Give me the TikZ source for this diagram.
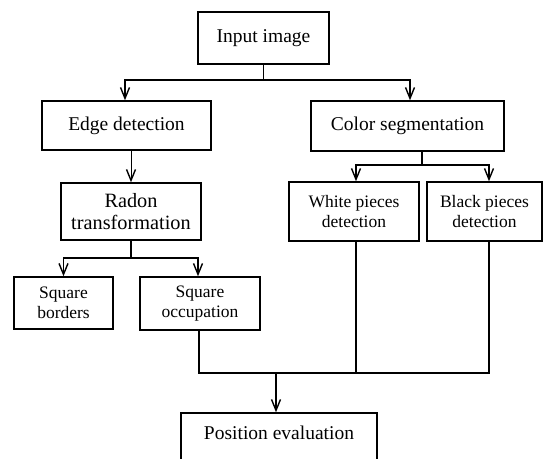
\documentclass[tikz,border=0pt]{standalone}
\usepackage{fontspec}
\setmainfont{Liberation Serif}
\usetikzlibrary{arrows.meta}

\tikzset{
  stage/.style={draw,line width=1.5pt,align=center,inner sep=0pt,
    font=\fontsize{19.5}{22}\selectfont},
  substage/.style={stage,font=\fontsize{17.5}{20.5}\selectfont},
  flow/.style={line width=1.5pt,-{Straight Barb[length=11pt,width=9pt,line width=1.4pt]}},
  link/.style={line width=1.5pt},
}

\begin{document}
\begin{tikzpicture}[x=1pt,y=-1pt]
 \useasboundingbox (0,0) rectangle (543,458);
 \clip (0,0) rectangle (543,458);
 % the boxes, placed by their centres
 \node[stage,line width=2pt,minimum width=131pt,minimum height=52pt] (input) at (263.5,38) {Input image};
 \node[stage,minimum width=169pt,minimum height=49pt] (edge) at (126.5,125.5) {Edge detection};
 \node[stage,minimum width=193pt,minimum height=50pt] (color) at (407.5,126) {Color segmentation};
 \node[stage,font=\fontsize{20.3}{22}\selectfont,minimum width=140pt,minimum height=57pt] (radon) at (131,211.5) {Radon\\transformation};
 \node[substage,minimum width=99pt,minimum height=52pt] (borders) at (63.5,303) {Square\\borders};
 \node[substage,minimum width=120pt,minimum height=53pt] (occup) at (200,303.5) {Square\\occupation};
 \node[substage,minimum width=130pt,minimum height=59pt] (white) at (354,211.5) {White pieces\\detection};
 \node[substage,minimum width=115pt,minimum height=59pt] (black) at (484.5,211.5) {Black pieces\\detection};
 \node[stage,minimum width=196pt,minimum height=54pt,text depth=14pt] (posit) at (279,440) {Position evaluation};
 % splits
 \draw[link] (input.south) -- ++(0,15) coordinate (s1);
 \draw[flow] (s1) -| ([xshift=-1.5pt]edge.north);
 \draw[flow] (s1) -| ([xshift=2.5pt]color.north);
 \draw[line width=.8pt,-{Straight Barb[length=11pt,width=9pt,line width=1.4pt]}] (radon.north |- edge.south) -- (radon.north);
 \draw[link] (radon.south) -- ++(0,17) coordinate (s2);
 \draw[flow] (s2) -| (borders.north);
 \draw[flow] (s2) -| ([xshift=-2pt]occup.north);
 \draw[link] ([xshift=14.5pt]color.south) -- ++(0,13) coordinate (s3);
 \draw[flow] (s3) -| ([xshift=2pt]white.north);
 \draw[flow] (s3) -| ([xshift=4.5pt]black.north);
 % merge into the last stage
 \coordinate (m) at ([xshift=-3pt]posit.north |- 0,373);
 \draw[link] ([xshift=-1pt]occup.south) |- ([xshift=4.5pt]black.south |- m) -- ([xshift=4.5pt]black.south);
 \draw[link] ([xshift=2pt]white.south) -- ([xshift=2pt]white.south |- m);
 \draw[flow] (m) -- (m |- posit.north);
\end{tikzpicture}
\end{document}
